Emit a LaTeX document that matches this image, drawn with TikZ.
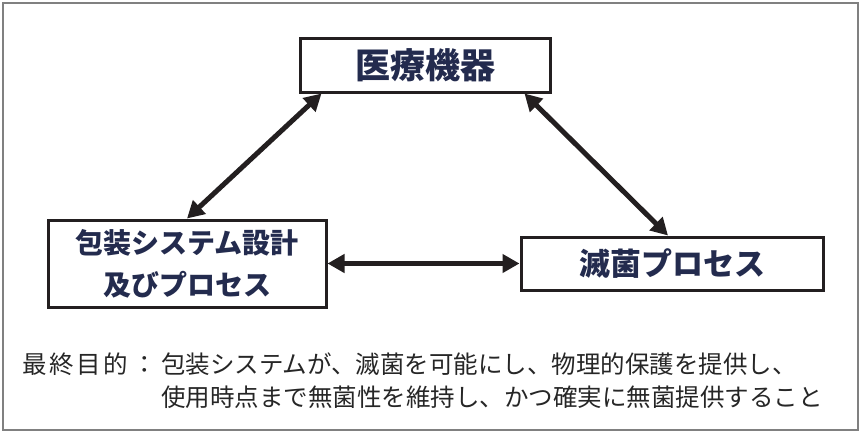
\documentclass[tikz,border=0pt]{standalone}
\usepackage{fontspec}
\newfontfamily\jp{Noto Sans CJK JP}
\newfontfamily\jpblack{Noto Sans CJK JP Black}
\usetikzlibrary{arrows.meta}
\definecolor{navy}{HTML}{232B4E}
\definecolor{boxline}{HTML}{231F20}
\definecolor{frame}{HTML}{808080}
\definecolor{note}{HTML}{262626}
\tikzset{
  titlebox/.style={draw=boxline, line width=3pt, fill=white, inner sep=0pt, align=center, text=navy},
  dblarrow/.style={draw=boxline, line width=5pt, {Triangle[length=17pt,width=18pt]}-{Triangle[length=17pt,width=18pt]}},
  notetext/.style={text=note, inner sep=0pt, anchor=west, font=\jp\fontsize{24.5pt}{28pt}\selectfont}
}
\begin{document}
\begin{tikzpicture}[x=1pt,y=1pt]
\useasboundingbox (0,0) rectangle (860,-432);
\draw[frame, line width=2pt] (2.5,-2.5) rectangle (857.5,-429.5);

\node[titlebox, minimum width=250pt, minimum height=54pt, font=\jpblack\fontsize{35pt}{40pt}\selectfont] (b1) at (425,-65) {医療機器};
\node[titlebox, minimum width=278pt, minimum height=87pt, font=\jpblack\fontsize{28pt}{42pt}\selectfont] (b2) at (187,-263.5) {包装システム設計\\及びプロセス};
\node[titlebox, minimum width=302pt, minimum height=53pt, font=\jpblack\fontsize{31pt}{36pt}\selectfont] (b3) at (672,-263.5) {滅菌プロセス};

\coordinate (a1) at ([xshift=23pt]b1.south west);
\coordinate (a2) at ([xshift=-27pt]b1.south east);
\coordinate (a3) at ([xshift=-4pt]b3.north);

\draw[dblarrow] (a1) -- (b2.north);
\draw[dblarrow] (a2) -- (a3);
\draw[dblarrow] (b2.east) -- (b3.west);

\node[notetext] (n1) at (22,-364) {最\kern2.5pt終\kern2.5pt目\kern2.5pt的\kern 5pt：\kern 4pt包装システムが、滅菌を可能にし、物理的保護を提供し、};
\node[notetext] (n2) at (161,-397) {使用時点まで無菌性を維持し、かつ確実に無菌提供すること};
\end{tikzpicture}
\end{document}
